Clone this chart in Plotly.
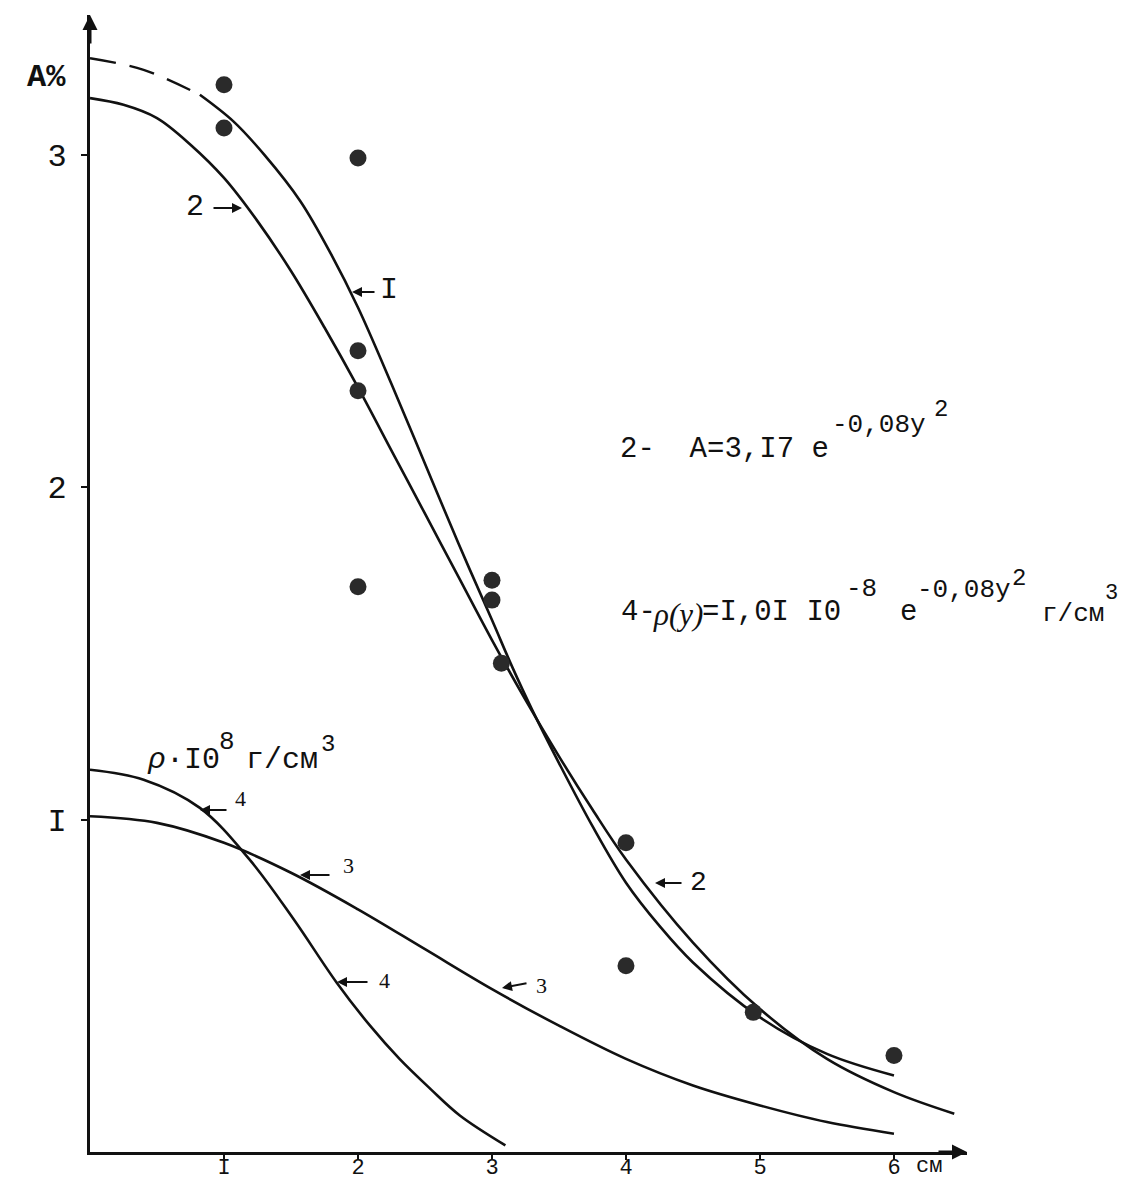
import plotly.graph_objects as go

# ---------------- data ----------------
# Curve I : dashed extrapolation near the axis, then solid
c1_dash_x = [0.0, 0.4, 0.82]
c1_dash_y = [3.29, 3.255, 3.18]
c1_x = [0.82, 1.07, 1.3, 1.57, 1.8, 2.0, 2.25, 2.5, 2.75, 3.0, 3.15, 3.3, 3.5, 3.75,
        4.0, 4.25, 4.5, 5.0, 5.5, 6.0]
c1_y = [3.18, 3.10, 3.00, 2.86, 2.70, 2.54, 2.31, 2.07, 1.83, 1.60, 1.46, 1.33, 1.17, 0.98,
        0.81, 0.68, 0.57, 0.405, 0.295, 0.23]

# Curve 2 : A = 3,17 e^(-0,08 y^2)
c2_x = [0.0, 0.25, 0.5, 0.75, 1.0, 1.25, 1.5, 1.75, 2.0, 2.25, 2.5, 2.75, 3.0, 3.25,
        3.5, 3.75, 4.0, 4.5, 5.0, 5.5, 6.0, 6.45]
c2_y = [3.17, 3.15, 3.11, 3.03, 2.93, 2.80, 2.65, 2.48, 2.30, 2.11, 1.92, 1.73, 1.54, 1.36,
        1.19, 1.03, 0.88, 0.63, 0.43, 0.28, 0.18, 0.115]

# Curve 3
c3_x = [0.0, 0.5, 1.0, 1.5, 2.0, 2.5, 3.0, 3.5, 4.0, 4.5, 5.0, 5.5, 6.0]
c3_y = [1.01, 0.99, 0.93, 0.84, 0.73, 0.61, 0.49, 0.38, 0.28, 0.20, 0.14, 0.09, 0.055]

# Curve 4
c4_x = [0.0, 0.4, 0.82, 1.19, 1.52, 1.84, 2.09, 2.31, 2.54, 2.76, 3.1]
c4_y = [1.15, 1.12, 1.035, 0.88, 0.70, 0.51, 0.38, 0.28, 0.19, 0.11, 0.02]

# Measured points A%
pts_x = [1, 1, 2, 2, 2, 2, 3, 3, 3.07, 4, 4, 4.95, 6]
pts_y = [3.21, 3.08, 2.99, 2.41, 2.29, 1.70, 1.72, 1.66, 1.47, 0.93, 0.56, 0.42, 0.29]

x_tickvals = [1, 2, 3, 4, 5, 6]
x_ticktext = ["I", "2", "3", "4", "5", "6"]
y_tickvals = [1, 2, 3]
y_ticktext = ["I", "2", "3"]

X_MAX = 6.545
Y_MAX = 3.42

MONO = "Liberation Mono, Courier New, monospace"
SERIF = "Liberation Serif, Times New Roman, serif"
INK = "#111111"

# page layout (browser body has an 8px margin)
PAGE_OFF = 8
PLOT_L, PLOT_T, PLOT_R, PLOT_B = 90, 15, 967, 1152
FIG_W, FIG_H = 1121, 1175


def px_(px):
    return (px - PLOT_L) / (PLOT_R - PLOT_L)


def py_(py):
    return (PLOT_B - py) / (PLOT_B - PLOT_T)


fig = go.Figure()

line_style = dict(color=INK, width=2.6, shape="spline", smoothing=1.0)

fig.add_trace(go.Scatter(x=c1_dash_x, y=c1_dash_y, mode="lines",
                         line=dict(color=INK, width=2.4, shape="spline", dash="26px,14px"),
                         hoverinfo="skip", showlegend=False))
for xs, ys in [(c1_x, c1_y), (c2_x, c2_y), (c3_x, c3_y), (c4_x, c4_y)]:
    fig.add_trace(go.Scatter(x=xs, y=ys, mode="lines", line=line_style,
                             hoverinfo="skip", showlegend=False))
fig.add_trace(go.Scatter(x=pts_x, y=pts_y, mode="markers",
                         marker=dict(size=17, color="#2a2a2a", line=dict(width=0)),
                         hoverinfo="skip", showlegend=False))

ann = []


def text(px, py, s, size, family=MONO, xanchor="center"):
    ann.append(dict(x=px_(px), y=py_(py), xref="paper", yref="paper", text=s,
                    showarrow=False, font=dict(size=size, family=family, color=INK),
                    xanchor=xanchor, yanchor="middle"))


def arrow(tip_px, tip_py, tail_px, tail_py, width=2.0, size=1.0, head=2):
    ann.append(dict(x=px_(tip_px), y=py_(tip_py), xref="paper", yref="paper",
                    ax=tail_px - tip_px, ay=tail_py - tip_py, text="",
                    showarrow=True, arrowhead=head, arrowsize=size,
                    arrowwidth=width, arrowcolor=INK))


# axis arrowheads
arrow(PLOT_R, PLOT_B, PLOT_R - 30, PLOT_B, width=3)
arrow(PLOT_L, PLOT_T, PLOT_L, PLOT_T + 30, width=3)

# axis labels
text(46, 77, "<b>A%</b>", 32)
text(929, 1166, "см", 22)

# curve labels with arrows
text(195, 207, "2", 30)
arrow(242, 208, 212, 208)
text(389, 290, "I", 30)
arrow(352, 292, 376, 292)
text(240, 798, "4", 22, SERIF)
arrow(200, 810, 228, 810)
text(348, 865, "3", 22, SERIF)
arrow(300, 875, 331, 875)
text(384, 980, "4", 22, SERIF)
arrow(337, 982, 369, 982)
text(541, 986, "3", 22, SERIF)
arrow(502, 988, 528, 983)
text(698, 882, "2", 28)
arrow(655, 883, 683, 883)

# density axis label  rho*10^8 g/cm^3
text(145, 760, "<i>ρ</i>·I0", 30, MONO, "left")
text(217, 742, "8", 26, MONO, "left")
text(244, 760, "г/см", 30, MONO, "left")
text(319, 744, "3", 24, MONO, "left")

# formula 2
text(618, 449, "2-  A=3,I7 e", 29, MONO, "left")
text(830, 425, "-0,08y", 26, MONO, "left")
text(932, 409, "2", 24, MONO, "left")

# formula 4
text(619, 612, "4-", 29, MONO, "left")
text(651, 614, "<i>ρ(y)</i>", 31, SERIF, "left")
text(700, 612, "=I,0I I0", 29, MONO, "left")
text(844, 589, "-8", 26, MONO, "left")
text(898, 612, "e", 29, MONO, "left")
text(915, 590, "-0,08y", 26, MONO, "left")
text(1010, 578, "2", 24, MONO, "left")
text(1040, 614, "г/см", 26, MONO, "left")
text(1103, 593, "3", 22, MONO, "left")

fig.update_layout(
    width=FIG_W, height=FIG_H,
    margin=dict(l=PLOT_L - PAGE_OFF, r=FIG_W - (PLOT_R - PAGE_OFF),
                t=PLOT_T - PAGE_OFF, b=FIG_H - (PLOT_B - PAGE_OFF), autoexpand=False),
    paper_bgcolor="white", plot_bgcolor="white",
    annotations=ann,
    xaxis=dict(range=[0, X_MAX], showgrid=False, zeroline=False,
               showline=True, linecolor=INK, linewidth=3,
               ticks="outside", ticklen=5, tickwidth=2, tickcolor=INK,
               tickvals=x_tickvals, ticktext=x_ticktext,
               tickfont=dict(size=22, family=MONO, color=INK),
               ticklabelstandoff=-12,
               automargin=False, fixedrange=True),
    yaxis=dict(range=[0, Y_MAX], showgrid=False, zeroline=False,
               showline=True, linecolor=INK, linewidth=3,
               ticks="outside", ticklen=6, tickwidth=2, tickcolor=INK,
               tickvals=y_tickvals, ticktext=y_ticktext,
               tickfont=dict(size=32, family=MONO, color=INK),
               ticklabelstandoff=8,
               automargin=False, fixedrange=True),
)

fig.write_html("out.html")
